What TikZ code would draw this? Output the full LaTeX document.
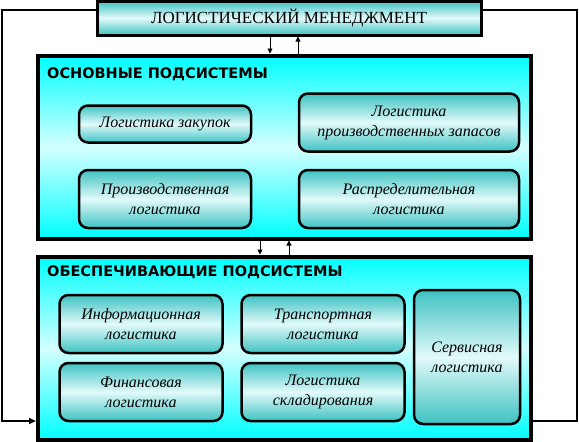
\documentclass[tikz,border=0pt]{standalone}
\usepackage{fontspec}
\setmainfont{Liberation Serif}
\newfontfamily\headfont{DejaVu Sans}
\usetikzlibrary{arrows.meta}

\definecolor{boxteal}{RGB}{62,194,194}
\definecolor{boxlight}{RGB}{226,250,250}
\definecolor{panlight}{RGB}{212,255,255}

\tikzset{
  panel/.style={draw,line width=4pt,top color=cyan,bottom color=cyan,middle color=panlight,inner sep=0pt},
  subbox/.style={draw,line width=2.5pt,rounded corners=9pt,top color=boxteal,bottom color=boxteal,middle color=boxlight,
    align=center,inner sep=0pt,font=\fontsize{16}{20}\selectfont\itshape},
  mgmt/.style={draw,line width=3pt,top color=boxteal,bottom color=boxteal,middle color=boxlight,inner sep=0pt,
    font=\fontsize{17}{20}\selectfont},
  paneltitle/.style={anchor=west,inner sep=0pt,font=\headfont\bfseries\fontsize{14.5}{17}\selectfont},
  link/.style={line width=2pt},
  tick/.style={line width=0.8pt,-{Triangle[length=5pt,width=5pt]}}
}

\begin{document}
\begin{tikzpicture}[x=1pt,y=-1pt]
  \useasboundingbox (0,0) rectangle (579,442);
  % management on top
  \node[mgmt,minimum width=384,minimum height=34] (mgmt) at (289,18) {ЛОГИСТИЧЕСКИЙ МЕНЕДЖМЕНТ};
  % the two panels
  \node[panel,minimum width=493,minimum height=183] (panA) at (284.5,147) {};
  \node[panel,minimum width=493,minimum height=183] (panB) at (284.5,348) {};
  \node[paneltitle] (tA) at (47,74) {ОСНОВНЫЕ ПОДСИСТЕМЫ};
  \node[paneltitle] (tB) at (47,272) {ОБЕСПЕЧИВАЮЩИЕ ПОДСИСТЕМЫ};
  % main subsystems
  \node[subbox,minimum width=172,minimum height=37] (zak) at (165,124) {Логистика закупок};
  \node[subbox,minimum width=220,minimum height=58] (zap) at (409,122.5) {Логистика\\производственных запасов};
  \node[subbox,minimum width=172,minimum height=58] (proiz) at (165,199) {Производственная\\логистика};
  \node[subbox,minimum width=220,minimum height=58] (raspr) at (409,199) {Распределительная\\логистика};
  % supporting subsystems
  \node[subbox,minimum width=163,minimum height=58] (inf) at (141,324) {Информационная\\логистика};
  \node[subbox,minimum width=163,minimum height=58] (trans) at (323,324) {Транспортная\\логистика};
  \node[subbox,minimum width=163,minimum height=58] (fin) at (141,392) {Финансовая\\логистика};
  \node[subbox,minimum width=163,minimum height=58] (sklad) at (323,392) {Логистика\\складирования};
  \node[subbox,minimum width=106,minimum height=134] (serv) at (467,357) {Сервисная\\логистика};
  % links
  \coordinate (lb) at (2,421);
  \coordinate (rb) at (577,421);
  \draw[link,-{Triangle[length=7pt,width=6pt]}] ([yshift=8pt]mgmt.west) -| (lb) -- (lb -| panB.west);
  \draw[link] ([yshift=8pt]mgmt.east) -| (rb) -- (rb -| panB.east);
  \draw[tick] ([xshift=-19pt]mgmt.south) -- ([xshift=-14.5pt]panA.north);
  \draw[tick] ([xshift=13.5pt]panA.north) -- ([xshift=9pt]mgmt.south);
  \draw[tick] ([xshift=-24.5pt]panA.south) -- ([xshift=-24.5pt]panB.north);
  \draw[tick] ([xshift=4.5pt]panB.north) -- ([xshift=4.5pt]panA.south);
\end{tikzpicture}
\end{document}
